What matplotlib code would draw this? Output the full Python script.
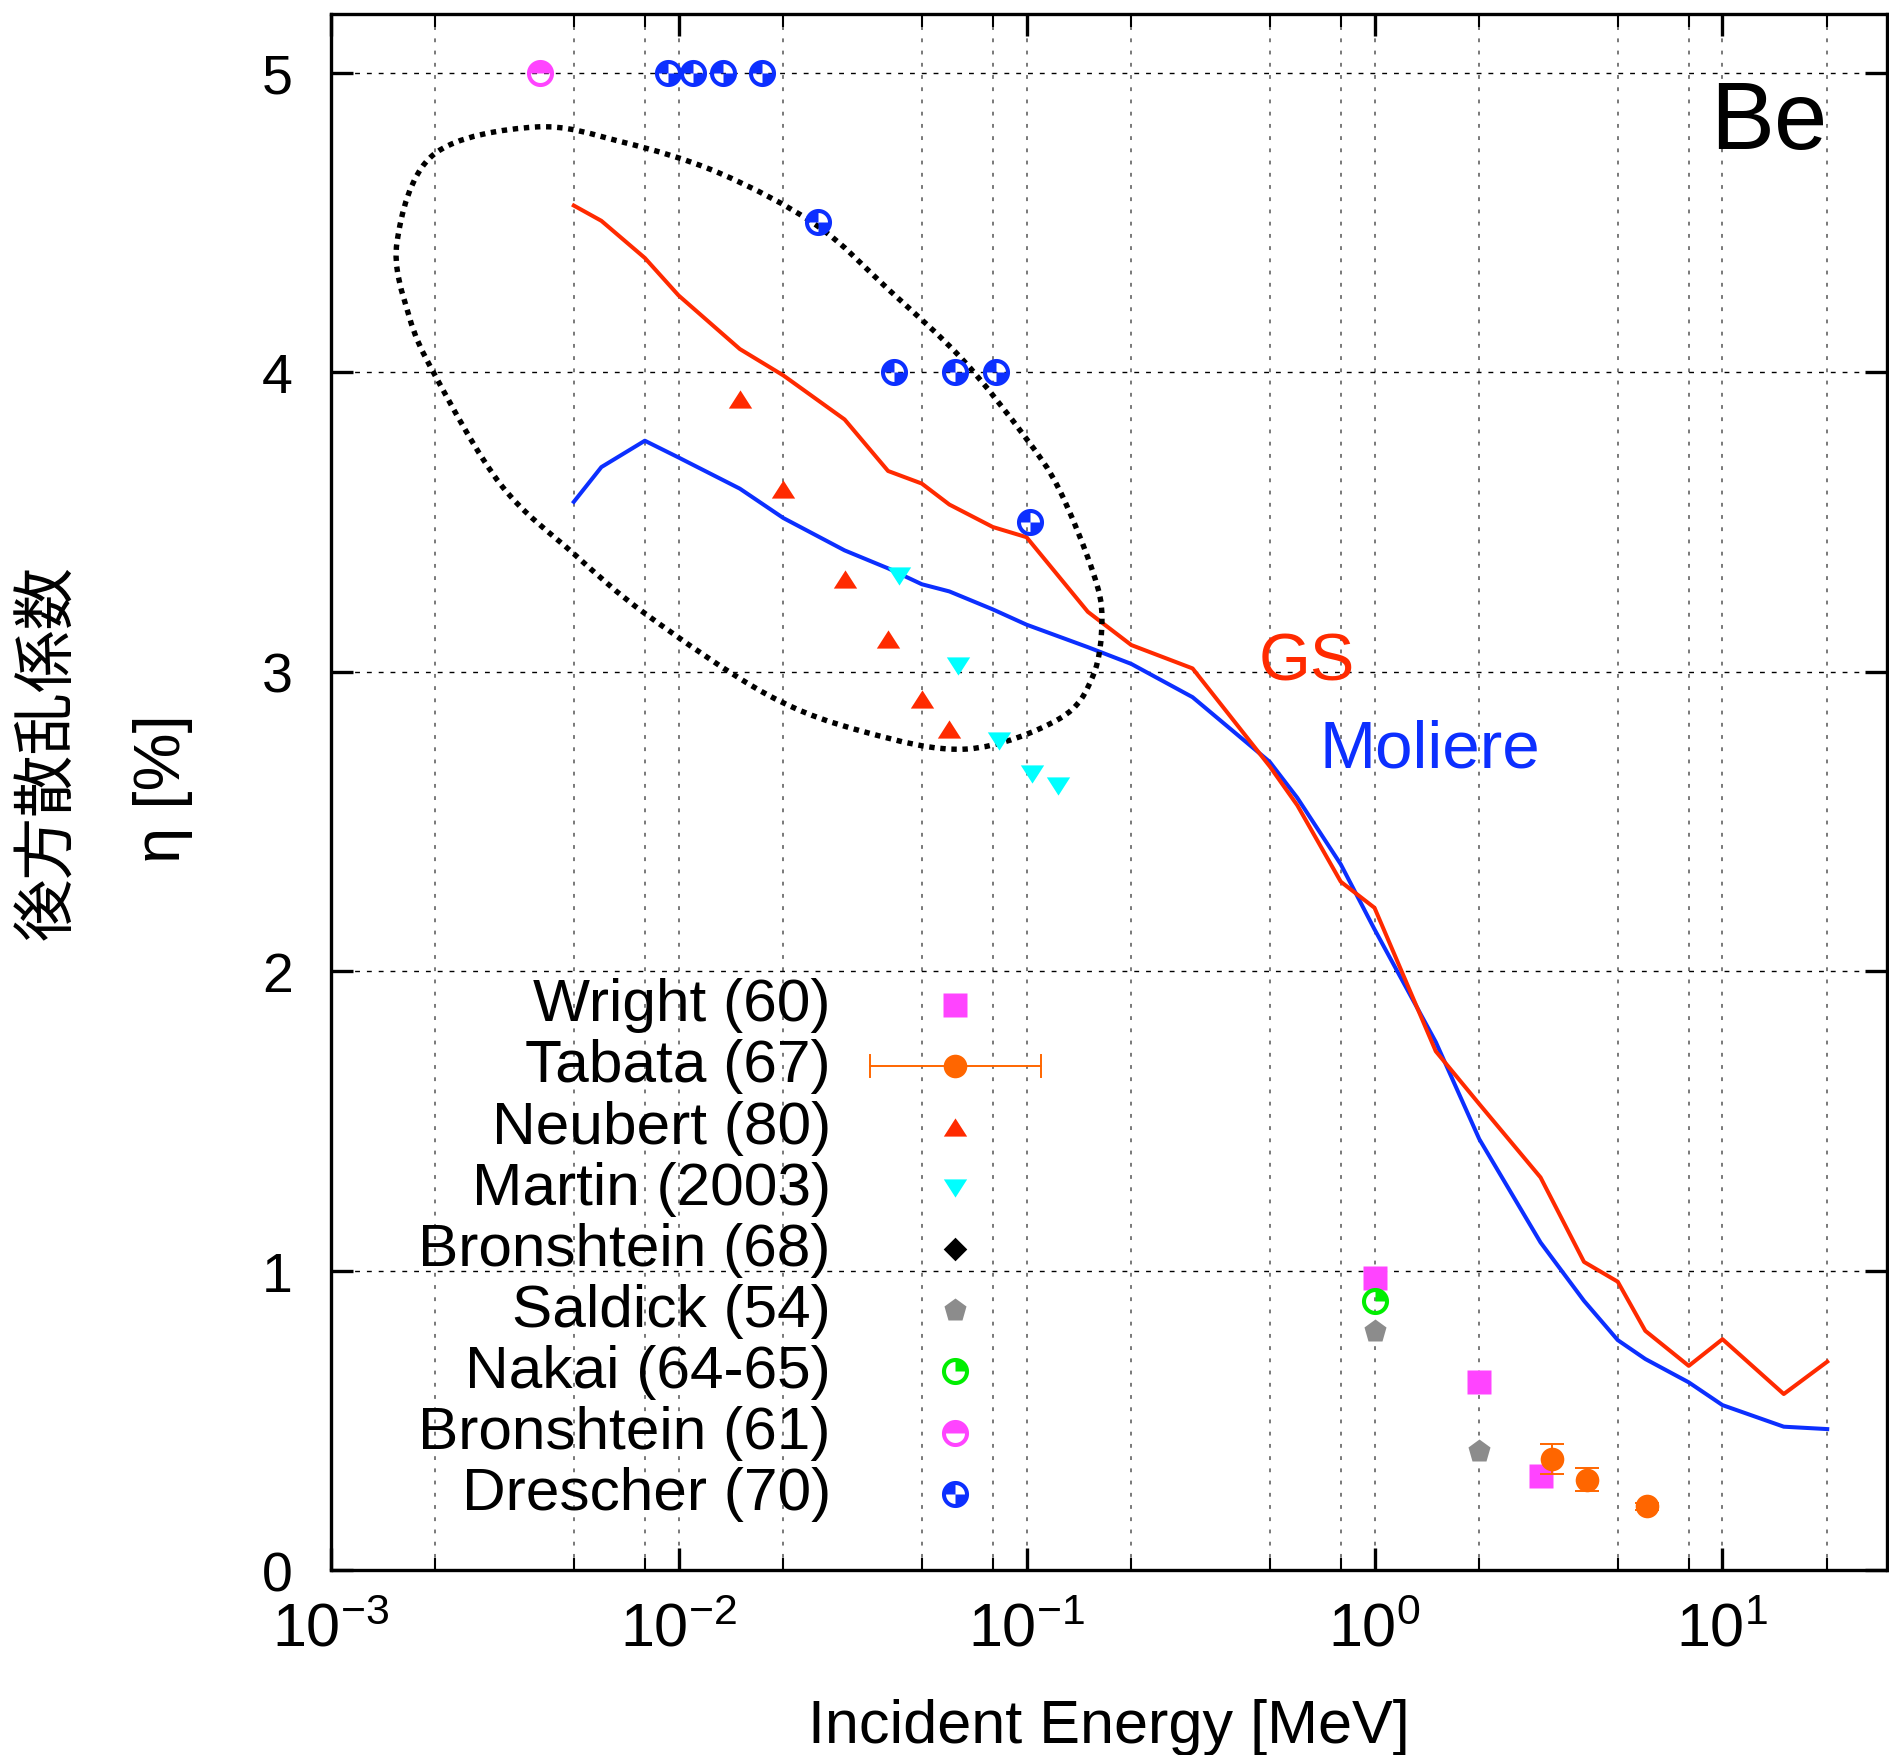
"""Backscattering coefficient of Be versus incident electron energy.

GS / Moliere simulation curves compared with measured data sets.
"""

import matplotlib
matplotlib.use("Agg")
import matplotlib.pyplot as plt
import numpy as np
from matplotlib.path import Path
from matplotlib.patches import PathPatch
from matplotlib.ticker import LogLocator, NullFormatter

plt.rcParams["font.family"] = ["Liberation Sans", "DejaVu Sans"]

# --- data ---------------------------------------------------------------
CALC_E = [0.005, 0.006, 0.008, 0.01, 0.015, 0.02, 0.03, 0.04, 0.05, 0.06,
          0.08, 0.1, 0.15, 0.2, 0.3, 0.5, 0.6, 0.8, 1.0, 1.5, 2.0, 3.0,
          4.0, 5.0, 6.0, 8.0, 10.0, 15.0, 20.0]
GS_ETA = [4.556, 4.505, 4.381, 4.256, 4.077, 3.989, 3.842, 3.670, 3.628,
          3.558, 3.483, 3.449, 3.200, 3.089, 3.011, 2.684, 2.554, 2.299,
          2.212, 1.733, 1.557, 1.312, 1.030, 0.964, 0.800, 0.683, 0.772,
          0.589, 0.697]
MOLIERE_ETA = [3.567, 3.683, 3.771, 3.715, 3.611, 3.513, 3.405, 3.345,
               3.292, 3.268, 3.208, 3.157, 3.082, 3.026, 2.915, 2.699,
               2.579, 2.357, 2.140, 1.764, 1.440, 1.095, 0.900, 0.769,
               0.706, 0.628, 0.552, 0.480, 0.472]

WRIGHT_E = [1.0, 2.0, 3.0]
WRIGHT_ETA = [0.975, 0.628, 0.314]

TABATA_E = [3.24, 4.09, 6.08]
TABATA_ETA = [0.372, 0.303, 0.214]
TABATA_ERR = [0.05, 0.039, 0.012]

NEUBERT_E = [0.015, 0.02, 0.03, 0.04, 0.05, 0.06]
NEUBERT_ETA = [3.91, 3.61, 3.31, 3.11, 2.91, 2.81]

MARTIN_E = [0.0431, 0.0636, 0.0835, 0.104, 0.123]
MARTIN_ETA = [3.32, 3.02, 2.77, 2.66, 2.62]

BRONSHTEIN68_E = []
BRONSHTEIN68_ETA = []

SALDICK_E = [1.0, 2.0]
SALDICK_ETA = [0.80, 0.40]

NAKAI_E = [1.0]
NAKAI_ETA = [0.90]

BRONSHTEIN61_E = [0.004]
BRONSHTEIN61_ETA = [5.0]

DRESCHER_E = [0.00934, 0.0110, 0.01339, 0.01733, 0.0251, 0.0416, 0.0621,
              0.0819, 0.102]
DRESCHER_ETA = [5.0, 5.0, 5.0, 5.0, 4.5, 4.0, 4.0, 4.0, 3.5]

LEGEND_LABELS = ["Wright (60)", "Tabata (67)", "Neubert (80)",
                 "Martin (2003)", "Bronshtein (68)", "Saldick (54)",
                 "Nakai (64-65)", "Bronshtein (61)", "Drescher (70)"]
# -------------------------------------------------------------------------

RED = "#ff2a00"
BLUE = "#0c2fff"
MAGENTA = "#ff44ff"
ORANGE = "#ff6600"
CYAN = "#00ffff"
GRAY = "#8c8c8c"
GREEN = "#00ee00"

# hand-drawn loop around the low-energy data (axes fraction)
LOOP = [(0.1313, 0.9271), (0.1873, 0.9175), (0.2496, 0.8976), (0.3119, 0.8642),
        (0.3588, 0.8224), (0.4057, 0.7781), (0.4462, 0.7280), (0.4680, 0.6946),
        (0.4898, 0.6413), (0.4956, 0.6111), (0.4898, 0.5745), (0.4680, 0.5469),
        (0.4089, 0.5276), (0.3434, 0.5385), (0.2810, 0.5623), (0.2033, 0.6137),
        (0.1564, 0.6529), (0.1095, 0.6972), (0.0677, 0.7665), (0.0504, 0.8057),
        (0.0427, 0.8533), (0.0658, 0.9091)]


def ring_marker(wedges, inner=0.7):
    """Circle outline with some filled sectors (angles in degrees)."""
    t = np.linspace(0, 2 * np.pi, 73)
    outer = np.column_stack([np.cos(t), np.sin(t)])
    hole = np.column_stack([inner * np.cos(t[::-1]), inner * np.sin(t[::-1])])
    parts = [Path(outer, closed=True), Path(hole, closed=True)]
    r = inner + 0.02
    for a0, a1 in wedges:
        a = np.radians(np.linspace(a0, a1, 19))
        pts = np.vstack([[0, 0], np.column_stack([r * np.cos(a), r * np.sin(a)]), [0, 0]])
        parts.append(Path(pts, closed=True))
    return Path.make_compound_path(*parts)


TRI_UP = Path([(-1, -0.78), (1, -0.78), (0, 0.78), (-1, -0.78)], closed=True)
TRI_DOWN = Path([(-1, 0.78), (1, 0.78), (0, -0.78), (-1, 0.78)], closed=True)
DIAMOND = Path([(0, 1), (1, 0), (0, -1), (-1, 0), (0, 1)], closed=True)

STYLES = {
    "Wright (60)": dict(marker="s", ms=17, mfc=MAGENTA, mec="none"),
    "Tabata (67)": dict(marker="o", ms=17, mfc=ORANGE, mec="none"),
    "Neubert (80)": dict(marker=TRI_UP, ms=16.8, mfc=RED, mec="none"),
    "Martin (2003)": dict(marker=TRI_DOWN, ms=16.8, mfc=CYAN, mec="none"),
    "Bronshtein (68)": dict(marker=DIAMOND, ms=17, mfc="black", mec="none"),
    "Saldick (54)": dict(marker="p", ms=17, mfc=GRAY, mec="none"),
    "Nakai (64-65)": dict(marker=ring_marker([(0, 90)]), ms=19.5, mfc=GREEN, mec="none"),
    "Bronshtein (61)": dict(marker=ring_marker([(0, 180)]), ms=19.5, mfc=MAGENTA, mec="none"),
    "Drescher (70)": dict(marker=ring_marker([(90, 180), (270, 360)]), ms=19.5,
                          mfc=BLUE, mec="none"),
}

SERIES = {
    "Wright (60)": (WRIGHT_E, WRIGHT_ETA),
    "Neubert (80)": (NEUBERT_E, NEUBERT_ETA),
    "Martin (2003)": (MARTIN_E, MARTIN_ETA),
    "Bronshtein (68)": (BRONSHTEIN68_E, BRONSHTEIN68_ETA),
    "Saldick (54)": (SALDICK_E, SALDICK_ETA),
    "Nakai (64-65)": (NAKAI_E, NAKAI_ETA),
    "Bronshtein (61)": (BRONSHTEIN61_E, BRONSHTEIN61_ETA),
    "Drescher (70)": (DRESCHER_E, DRESCHER_ETA),
}

fig = plt.figure(figsize=(18.89, 17.56), dpi=100)
ax = fig.add_axes([0.17501, 0.10507, 0.82393, 0.88667])

ax.plot(CALC_E, MOLIERE_ETA, color=BLUE, lw=2.9, zorder=2)
ax.plot(CALC_E, GS_ETA, color=RED, lw=2.9, zorder=2)

for label, (e, eta) in SERIES.items():
    ax.plot(e, eta, ls="none", zorder=4, **STYLES[label])
ax.errorbar(TABATA_E, TABATA_ETA, yerr=TABATA_ERR, fmt="o", ms=17, color=ORANGE,
            mec="none", elinewidth=1.4, capsize=8.6, capthick=1.4, zorder=4)

# dotted loop
pts = np.array(LOOP)
n = len(pts)
verts, codes = [pts[0]], [Path.MOVETO]
for i in range(n):
    p0, p1, p2, p3 = pts[i - 1], pts[i], pts[(i + 1) % n], pts[(i + 2) % n]
    verts += [p1 + (p2 - p0) / 6, p2 - (p3 - p1) / 6, p2]
    codes += [Path.CURVE4] * 3
ax.add_patch(PathPatch(Path(verts, codes), fill=False, lw=3.9, ls=(0, (1, 1.05)),
                       edgecolor="black", transform=ax.transAxes, zorder=3))

# axes
ax.set_xscale("log")
ax.set_xlim(1e-3, 29.7)
ax.set_ylim(0, 5.197)
ax.xaxis.set_major_locator(LogLocator(base=10, numticks=10))
ax.xaxis.set_minor_locator(LogLocator(base=10, subs=(2, 5, 8), numticks=20))
ax.xaxis.set_minor_formatter(NullFormatter())
ax.set_yticks([0, 1, 2, 3, 4, 5])
ax.grid(axis="x", which="both", color="#555555", lw=1.1, ls=(0, (2.5, 5.5)))
ax.grid(axis="y", which="major", color="black", lw=1.0, ls=(0, (3.5, 5)))
ax.set_axisbelow(True)
for sp in ax.spines.values():
    sp.set_linewidth(2.4)
ax.tick_params(which="both", direction="in", top=True, right=True)
ax.tick_params(which="major", length=16, width=2.4)
ax.tick_params(which="minor", length=9, width=1.5)
ax.tick_params(axis="y", labelsize=40, pad=27)
ax.tick_params(axis="x", labelsize=44, pad=22)

ax.set_xlabel("Incident Energy [MeV]", fontsize=44)
ax.xaxis.set_label_coords(0.5, -0.082)
ax.text(-0.1816, 0.5257, "後方散乱係数", transform=ax.transAxes, rotation=90,
        ha="center", va="center", fontsize=45, family=["Noto Sans CJK JP"])
ax.text(-0.1077, 0.5026, "η [%]", transform=ax.transAxes, rotation=90,
        ha="center", va="center", fontsize=47)

ax.text(0.465, 2.973, "GS", color=RED, fontsize=48, ha="left", va="baseline")
ax.text(0.693, 2.683, "Moliere", color=BLUE, fontsize=48.5, ha="left", va="baseline")
ax.text(0.9618, 0.9134, "Be", transform=ax.transAxes, fontsize=69,
        ha="right", va="baseline")

# legend drawn by hand (gnuplot style: text right-aligned, symbol to the right)
text_x, sym_x, row0, step = 0.3215, 0.4012, 0.3633, 0.03924
for k, label in enumerate(LEGEND_LABELS):
    y = row0 - k * step
    ax.text(text_x, y, label, transform=ax.transAxes, fontsize=43.5,
            ha="right", va="center", zorder=5)
    if label == "Tabata (67)":
        x0, x1, h = 0.3464, 0.4563, 0.0071
        ax.plot([x0, x1], [y, y], transform=ax.transAxes, color=ORANGE, lw=1.4,
                clip_on=False, zorder=5)
        for xc in (x0, x1):
            ax.plot([xc, xc], [y - h, y + h], transform=ax.transAxes,
                    color=ORANGE, lw=1.4, clip_on=False, zorder=5)
    ax.plot([sym_x], [y], transform=ax.transAxes, ls="none", clip_on=False,
            zorder=6, **STYLES[label])

fig.savefig("out.png", dpi=100)
